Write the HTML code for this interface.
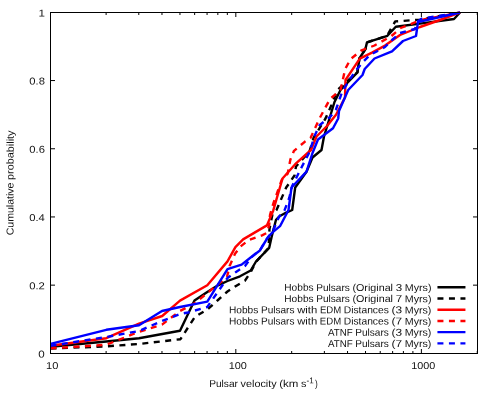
<!DOCTYPE html>
<html><head><meta charset="utf-8"><title>Pulsar velocity CDF</title>
<style>
html,body{margin:0;padding:0;background:#fff;}
body{width:500px;height:400px;overflow:hidden;font-family:"Liberation Sans",sans-serif;}
svg{display:block;font-family:"Liberation Sans",sans-serif;will-change:transform;}
text{fill:#111;}
</style></head><body>
<svg width="500" height="400" viewBox="0 0 500 400">
<rect x="0" y="0" width="500" height="400" fill="#ffffff"/>

<g stroke="#000" stroke-width="1" fill="none" shape-rendering="crispEdges">
<path shape-rendering="auto" d="M106.11 353.5V351.0M106.11 12.5V15.0"/>
<path shape-rendering="auto" d="M138.79 353.5V351.0M138.79 12.5V15.0"/>
<path shape-rendering="auto" d="M161.97 353.5V351.0M161.97 12.5V15.0"/>
<path shape-rendering="auto" d="M179.96 353.5V351.0M179.96 12.5V15.0"/>
<path shape-rendering="auto" d="M194.65 353.5V351.0M194.65 12.5V15.0"/>
<path shape-rendering="auto" d="M207.07 353.5V351.0M207.07 12.5V15.0"/>
<path shape-rendering="auto" d="M217.84 353.5V351.0M217.84 12.5V15.0"/>
<path shape-rendering="auto" d="M227.33 353.5V351.0M227.33 12.5V15.0"/>
<path shape-rendering="auto" d="M235.82 353.5V349.0M235.82 12.5V17.0"/>
<path shape-rendering="auto" d="M291.68 353.5V351.0M291.68 12.5V15.0"/>
<path shape-rendering="auto" d="M324.36 353.5V351.0M324.36 12.5V15.0"/>
<path shape-rendering="auto" d="M347.54 353.5V351.0M347.54 12.5V15.0"/>
<path shape-rendering="auto" d="M365.53 353.5V351.0M365.53 12.5V15.0"/>
<path shape-rendering="auto" d="M380.22 353.5V351.0M380.22 12.5V15.0"/>
<path shape-rendering="auto" d="M392.64 353.5V351.0M392.64 12.5V15.0"/>
<path shape-rendering="auto" d="M403.4 353.5V351.0M403.4 12.5V15.0"/>
<path shape-rendering="auto" d="M412.9 353.5V351.0M412.9 12.5V15.0"/>
<path shape-rendering="auto" d="M421.39 353.5V349.0M421.39 12.5V17.0"/>
<path shape-rendering="auto" d="M477.25 353.5V351.0M477.25 12.5V15.0"/>
<path shape-rendering="auto" d="M50.5 285.15H55.0M477.5 285.15H473.0"/>
<path shape-rendering="auto" d="M50.5 216.95H55.0M477.5 216.95H473.0"/>
<path shape-rendering="auto" d="M50.5 148.75H55.0M477.5 148.75H473.0"/>
<path shape-rendering="auto" d="M50.5 80.55H55.0M477.5 80.55H473.0"/>
</g>
<polyline points="50.5,346.8 106.3,341.5 139.0,338.2 180.0,330.8 194.5,300.6 207.3,292.0 218.0,285.3 227.5,281.0 240.0,276.3 250.7,270.5 256.0,261.5 269.2,247.8 271.6,237.0 276.0,219.8 279.5,216.3 285.8,212.8 292.2,210.0 295.2,187.5 306.5,171.7 312.5,157.5 321.5,150.0 324.0,136.5 334.5,102.0 340.5,90.0 357.4,72.4 359.4,58.5 365.4,49.0 367.0,42.4 387.4,35.8 395.8,26.8 420.0,23.6 454.0,19.0 460.0,12.5" fill="none" stroke="#000000" stroke-width="2.4" stroke-linejoin="round" stroke-linecap="butt"/>
<polyline points="50.5,348.6 106.3,346.3 139.0,344.0 180.5,339.2 194.8,317.0 207.3,309.5 218.0,300.0 227.5,291.5 236.0,286.0 245.0,280.6 250.7,272.0 256.0,261.8 268.6,248.0 269.5,229.0 272.5,214.2 276.5,210.0 286.2,187.5 294.5,175.5 296.0,166.5 309.5,151.5 313.5,138.0 325.5,118.5 331.5,105.0 337.5,90.0 343.0,84.8 357.4,72.4 359.4,58.5 365.4,49.0 367.0,42.4 387.0,35.8 395.2,21.4 402.0,21.0 420.0,19.6 460.0,12.5" fill="none" stroke="#000000" stroke-width="2.4" stroke-linejoin="round" stroke-linecap="butt" stroke-dasharray="6 5.5"/>
<polyline points="50.5,345.8 106.3,338.2 139.0,323.7 162.2,316.0 180.0,300.6 207.3,285.2 227.5,261.4 235.4,247.1 243.1,239.4 266.9,225.4 273.2,210.7 282.5,178.5 295.2,164.2 311.0,150.0 316.5,136.5 327.0,126.0 336.0,114.7 345.0,97.5 345.5,80.0 359.8,58.6 372.0,52.6 385.0,45.6 400.0,35.0 420.0,27.0 440.0,20.0 460.0,12.5" fill="none" stroke="#ff0000" stroke-width="2.4" stroke-linejoin="round" stroke-linecap="butt"/>
<polyline points="50.5,348.4 106.3,344.8 139.0,331.8 162.0,324.6 180.0,311.0 195.0,303.0 207.3,293.0 227.0,277.0 229.6,266.0 235.0,253.8 240.4,246.6 248.8,240.0 262.0,235.3 266.8,233.0 269.2,225.0 270.0,215.0 273.5,203.0 281.7,180.0 287.7,173.6 290.4,159.5 294.0,150.8 305.0,141.6 310.5,138.0 319.5,118.5 330.0,99.0 340.5,90.0 345.2,69.0 350.5,59.2 361.0,50.6 374.5,45.5 391.0,36.4 400.6,28.0 411.4,23.8 420.0,20.2 460.0,12.5" fill="none" stroke="#ff0000" stroke-width="2.4" stroke-linejoin="round" stroke-linecap="butt" stroke-dasharray="6 5.5"/>
<polyline points="50.5,343.8 106.3,329.8 139.0,325.2 162.0,311.0 180.0,307.0 207.3,301.6 227.5,269.1 241.6,264.6 250.0,258.0 259.6,250.8 264.4,243.0 268.0,237.0 272.8,232.2 280.0,226.2 288.5,210.0 291.5,187.5 306.5,171.7 312.5,153.0 318.0,139.5 333.0,128.2 338.2,118.5 339.0,111.0 348.2,90.0 362.5,75.0 364.7,69.0 374.5,58.5 389.5,52.3 392.0,51.3 403.0,41.0 416.0,36.0 418.0,22.0 460.0,12.5" fill="none" stroke="#0000ff" stroke-width="2.4" stroke-linejoin="round" stroke-linecap="butt"/>
<polyline points="50.5,345.8 106.3,337.0 139.0,331.0 162.0,321.0 180.0,314.0 188.0,312.5 207.3,307.0 227.5,278.0 236.0,272.0 245.0,266.0 251.2,257.4 260.8,249.0 265.6,240.6 272.8,231.0 276.0,224.0 278.8,217.0 284.4,210.7 289.2,198.0 292.2,186.0 302.0,166.5 309.5,152.0 315.0,135.0 319.5,125.2 330.0,117.0 336.0,109.5 340.5,96.5 342.5,91.0 355.0,71.5 364.0,61.0 370.0,55.0 385.0,47.0 392.0,40.0 400.0,33.0 415.0,29.0 417.0,22.0 422.0,18.6 460.0,12.5" fill="none" stroke="#0000ff" stroke-width="2.4" stroke-linejoin="round" stroke-linecap="butt" stroke-dasharray="6 5.5"/>
<rect x="50.5" y="12.5" width="427.0" height="341.0" fill="none" stroke="#000" stroke-width="1.2" shape-rendering="crispEdges"/>
<g transform="rotate(0.03 250 200)">
<text x="284.32" y="290.85" font-size="10.0" textLength="29.35" lengthAdjust="spacingAndGlyphs">Hobbs</text>
<text x="316.30" y="290.85" font-size="10.0" textLength="33.54" lengthAdjust="spacingAndGlyphs">Pulsars</text>
<text x="352.48" y="290.85" font-size="10.0" textLength="40.59" lengthAdjust="spacingAndGlyphs">(Original</text>
<text x="395.71" y="290.85" font-size="10.0" textLength="6.45" lengthAdjust="spacingAndGlyphs">3</text>
<text x="404.80" y="290.85" font-size="10.0" textLength="26.70" lengthAdjust="spacingAndGlyphs">Myrs)</text>
<path d="M437.5 287.15H465.5" stroke="#000000" stroke-width="2.4" fill="none"/>
<text x="284.32" y="302.05" font-size="10.0" textLength="29.35" lengthAdjust="spacingAndGlyphs">Hobbs</text>
<text x="316.30" y="302.05" font-size="10.0" textLength="33.54" lengthAdjust="spacingAndGlyphs">Pulsars</text>
<text x="352.48" y="302.05" font-size="10.0" textLength="40.59" lengthAdjust="spacingAndGlyphs">(Original</text>
<text x="395.71" y="302.05" font-size="10.0" textLength="6.45" lengthAdjust="spacingAndGlyphs">7</text>
<text x="404.80" y="302.05" font-size="10.0" textLength="26.70" lengthAdjust="spacingAndGlyphs">Myrs)</text>
<path d="M437.5 298.35H465.5" stroke="#000000" stroke-width="2.4" fill="none" stroke-dasharray="6 5.5"/>
<text x="229.04" y="313.30" font-size="10.0" textLength="29.35" lengthAdjust="spacingAndGlyphs">Hobbs</text>
<text x="261.03" y="313.30" font-size="10.0" textLength="33.54" lengthAdjust="spacingAndGlyphs">Pulsars</text>
<text x="297.21" y="313.30" font-size="10.0" textLength="20.09" lengthAdjust="spacingAndGlyphs">with</text>
<text x="319.94" y="313.30" font-size="10.0" textLength="21.26" lengthAdjust="spacingAndGlyphs">EDM</text>
<text x="343.84" y="313.30" font-size="10.0" textLength="45.05" lengthAdjust="spacingAndGlyphs">Distances</text>
<text x="391.53" y="313.30" font-size="10.0" textLength="10.63" lengthAdjust="spacingAndGlyphs">(3</text>
<text x="404.80" y="313.30" font-size="10.0" textLength="26.70" lengthAdjust="spacingAndGlyphs">Myrs)</text>
<path d="M437.5 309.6H465.5" stroke="#ff0000" stroke-width="2.4" fill="none"/>
<text x="229.04" y="324.55" font-size="10.0" textLength="29.35" lengthAdjust="spacingAndGlyphs">Hobbs</text>
<text x="261.03" y="324.55" font-size="10.0" textLength="33.54" lengthAdjust="spacingAndGlyphs">Pulsars</text>
<text x="297.21" y="324.55" font-size="10.0" textLength="20.09" lengthAdjust="spacingAndGlyphs">with</text>
<text x="319.94" y="324.55" font-size="10.0" textLength="21.26" lengthAdjust="spacingAndGlyphs">EDM</text>
<text x="343.84" y="324.55" font-size="10.0" textLength="45.05" lengthAdjust="spacingAndGlyphs">Distances</text>
<text x="391.53" y="324.55" font-size="10.0" textLength="10.63" lengthAdjust="spacingAndGlyphs">(7</text>
<text x="404.80" y="324.55" font-size="10.0" textLength="26.70" lengthAdjust="spacingAndGlyphs">Myrs)</text>
<path d="M437.5 320.85H465.5" stroke="#ff0000" stroke-width="2.4" fill="none" stroke-dasharray="6 5.5"/>
<text x="327.99" y="335.75" font-size="10.0" textLength="24.73" lengthAdjust="spacingAndGlyphs">ATNF</text>
<text x="355.36" y="335.75" font-size="10.0" textLength="33.54" lengthAdjust="spacingAndGlyphs">Pulsars</text>
<text x="391.53" y="335.75" font-size="10.0" textLength="10.63" lengthAdjust="spacingAndGlyphs">(3</text>
<text x="404.80" y="335.75" font-size="10.0" textLength="26.70" lengthAdjust="spacingAndGlyphs">Myrs)</text>
<path d="M437.5 332.05H465.5" stroke="#0000ff" stroke-width="2.4" fill="none"/>
<text x="327.99" y="347.00" font-size="10.0" textLength="24.73" lengthAdjust="spacingAndGlyphs">ATNF</text>
<text x="355.36" y="347.00" font-size="10.0" textLength="33.54" lengthAdjust="spacingAndGlyphs">Pulsars</text>
<text x="391.53" y="347.00" font-size="10.0" textLength="10.63" lengthAdjust="spacingAndGlyphs">(7</text>
<text x="404.80" y="347.00" font-size="10.0" textLength="26.70" lengthAdjust="spacingAndGlyphs">Myrs)</text>
<path d="M437.5 343.3H465.5" stroke="#0000ff" stroke-width="2.4" fill="none" stroke-dasharray="6 5.5"/>
<text x="38.45" y="357.50" font-size="10.0" textLength="6.45" lengthAdjust="spacingAndGlyphs">0</text>
<text x="29.25" y="289.30" font-size="10.0" textLength="15.65" lengthAdjust="spacingAndGlyphs">0.2</text>
<text x="29.25" y="221.10" font-size="10.0" textLength="15.65" lengthAdjust="spacingAndGlyphs">0.4</text>
<text x="29.25" y="152.90" font-size="10.0" textLength="15.65" lengthAdjust="spacingAndGlyphs">0.6</text>
<text x="29.25" y="84.70" font-size="10.0" textLength="15.65" lengthAdjust="spacingAndGlyphs">0.8</text>
<text x="38.45" y="16.50" font-size="10.0" textLength="6.45" lengthAdjust="spacingAndGlyphs">1</text>
<text x="46.15" y="369.00" font-size="10.0" textLength="12.30" lengthAdjust="spacingAndGlyphs">10</text>
<text x="228.79" y="369.00" font-size="10.0" textLength="18.15" lengthAdjust="spacingAndGlyphs">100</text>
<text x="411.44" y="369.00" font-size="10.0" textLength="24.00" lengthAdjust="spacingAndGlyphs">1000</text>
<text x="209.30" y="387.00" font-size="10.0" textLength="28.74" lengthAdjust="spacingAndGlyphs">Pulsar</text>
<text x="240.68" y="387.00" font-size="10.0" textLength="36.02" lengthAdjust="spacingAndGlyphs">velocity</text>
<text x="279.34" y="387.00" font-size="10.0" textLength="19.17" lengthAdjust="spacingAndGlyphs">(km</text>
<text x="301.15" y="387.00" font-size="10.0" textLength="5.39" lengthAdjust="spacingAndGlyphs">s</text>
<text x="306.55" y="383.2" font-size="8.2" textLength="7.22" lengthAdjust="spacingAndGlyphs">-1</text>
<text x="315.17" y="387" font-size="10.0" textLength="2.78" lengthAdjust="spacingAndGlyphs">)</text>
<g transform="translate(13.6,235.13) rotate(-90)"><text x="-0.30" y="0.00" font-size="10.0" textLength="52.75" lengthAdjust="spacingAndGlyphs">Cumulative</text><text x="55.08" y="0.00" font-size="10.0" textLength="49.47" lengthAdjust="spacingAndGlyphs">probability</text></g>
</g>
</svg></body></html>
